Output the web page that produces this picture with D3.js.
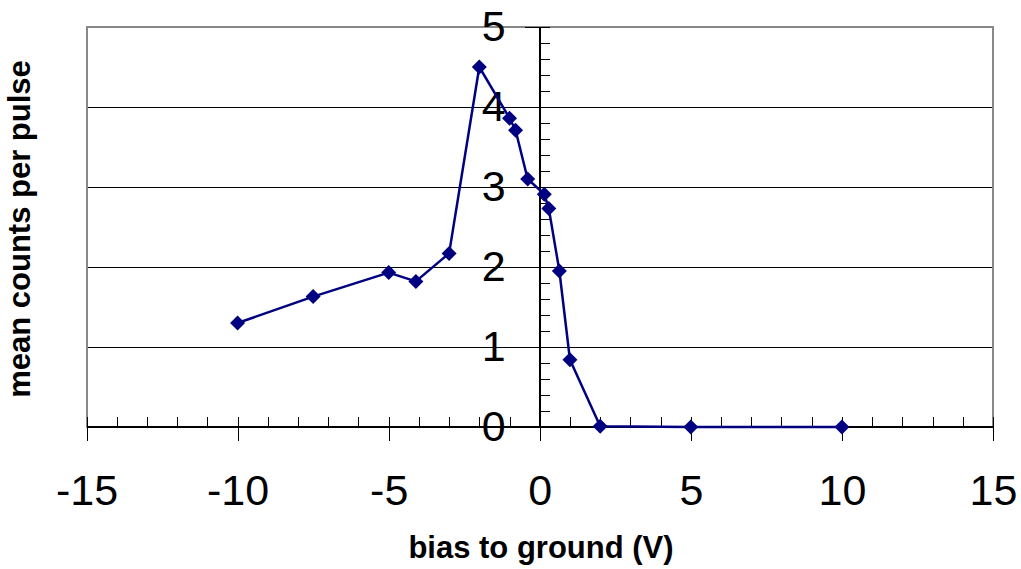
<!DOCTYPE html>
<html>
<head>
<meta charset="utf-8">
<script src="https://cdn.jsdelivr.net/npm/d3@7"></script>
<style>
  html, body { margin: 0; padding: 0; background: #fff; }
  svg { display: block; font-family: "Liberation Sans", Arial, sans-serif; }
</style>
</head>
<body>
<svg id="chart" width="1021" height="569"></svg>
<script>
// Bias voltage (V) and mean detector counts per pulse
const biasVolts = [-10, -7.5, -5, -4.1, -3, -2, -1, -0.8, -0.4, 0.15, 0.3, 0.65, 1, 2, 5, 10];
const meanCounts = [1.30, 1.63, 1.93, 1.82, 2.17, 4.50, 3.86, 3.71, 3.10, 2.91, 2.73, 1.95, 0.84, 0.01, 0.0, 0.0];

const xTickValues = [-15, -10, -5, 0, 5, 10, 15];
const yTickValues = [0, 1, 2, 3, 4, 5];
const xTitle = "bias to ground (V)";
const yTitle = "mean counts per pulse";

const svg = d3.select("#chart");
const plot = { left: 86.5, right: 993, top: 27, bottom: 427 };
const plain = d => String(d);   // ASCII hyphen for negatives

const x = d3.scaleLinear().domain([-15, 15]).range([plot.left, plot.right]);
const y = d3.scaleLinear().domain([0, 5]).range([plot.bottom, plot.top]);

// horizontal gridlines
svg.append("g")
  .attr("shape-rendering", "crispEdges")
  .selectAll("line")
  .data(yTickValues.filter(v => v > 0 && v < 5))
  .join("line")
  .attr("x1", plot.left).attr("x2", plot.right)
  .attr("y1", d => y(d)).attr("y2", d => y(d))
  .attr("stroke", "#000").attr("stroke-width", 1);

// plot frame
svg.append("rect")
  .attr("shape-rendering", "crispEdges")
  .attr("x", plot.left).attr("y", plot.top)
  .attr("width", plot.right - plot.left).attr("height", plot.bottom - plot.top)
  .attr("fill", "none").attr("stroke", "#888").attr("stroke-width", 2);

const tickStyle = g => {
  g.attr("shape-rendering", "crispEdges");
  g.select(".domain").remove();
  g.selectAll(".tick line").attr("stroke", "#000").attr("stroke-width", 1);
};
const labelStyle = g => g.selectAll("text")
  .attr("font-size", 43).attr("fill", "#000")
  .attr("font-family", "'Liberation Sans', Arial, sans-serif");

// x axis: minor ticks (inside) every 1 V, major ticks crossing every 5 V
svg.append("g")
  .attr("transform", `translate(0,${y(0)})`)
  .call(d3.axisBottom(x).tickValues(d3.range(-15, 16, 1)).tickSize(-10).tickFormat(""))
  .call(tickStyle);
svg.append("g")
  .attr("transform", `translate(0,${y(0)})`)
  .call(d3.axisBottom(x).tickValues(xTickValues).tickSize(14).tickPadding(33).tickFormat(plain))
  .call(tickStyle)
  .call(labelStyle);
svg.append("line")
  .attr("shape-rendering", "crispEdges")
  .attr("x1", plot.left).attr("x2", plot.right)
  .attr("y1", y(0)).attr("y2", y(0))
  .attr("stroke", "#000").attr("stroke-width", 2);

// y axis at zero bias: minor ticks every 0.2 to the right, majors crossing
svg.append("g")
  .attr("transform", `translate(${x(0)},0)`)
  .call(d3.axisRight(y).tickValues(d3.range(0, 26).map(i => i / 5)).tickSize(10).tickFormat(""))
  .call(tickStyle);
svg.append("g")
  .attr("transform", `translate(${x(0)},0)`)
  .call(d3.axisLeft(y).tickValues(yTickValues).tickSize(15).tickPadding(19).tickFormat(plain))
  .call(tickStyle)
  .call(labelStyle);
svg.append("line")
  .attr("shape-rendering", "crispEdges")
  .attr("x1", x(0)).attr("x2", x(0))
  .attr("y1", plot.top).attr("y2", plot.bottom)
  .attr("stroke", "#000").attr("stroke-width", 1.5);

// data series
const pts = biasVolts.map((v, i) => [v, meanCounts[i]]);
svg.append("path")
  .datum(pts)
  .attr("fill", "none")
  .attr("stroke", "#000080")
  .attr("stroke-width", 2.5)
  .attr("stroke-linejoin", "round")
  .attr("d", d3.line().x(d => x(d[0])).y(d => y(d[1])));

const r = 7.5;
svg.append("g")
  .selectAll("path")
  .data(pts)
  .join("path")
  .attr("transform", d => `translate(${x(d[0])},${y(d[1])})`)
  .attr("d", `M0,${-r}L${r},0L0,${r}L${-r},0Z`)
  .attr("fill", "#000080");

// axis titles
svg.append("text")
  .attr("x", 541).attr("y", 558)
  .attr("text-anchor", "middle")
  .attr("font-size", 31).attr("font-weight", "bold")
  .text(xTitle);
svg.append("text")
  .attr("transform", "translate(30,229) rotate(-90)")
  .attr("text-anchor", "middle")
  .attr("font-size", 31).attr("font-weight", "bold")
  .text(yTitle);
</script>
</body>
</html>
